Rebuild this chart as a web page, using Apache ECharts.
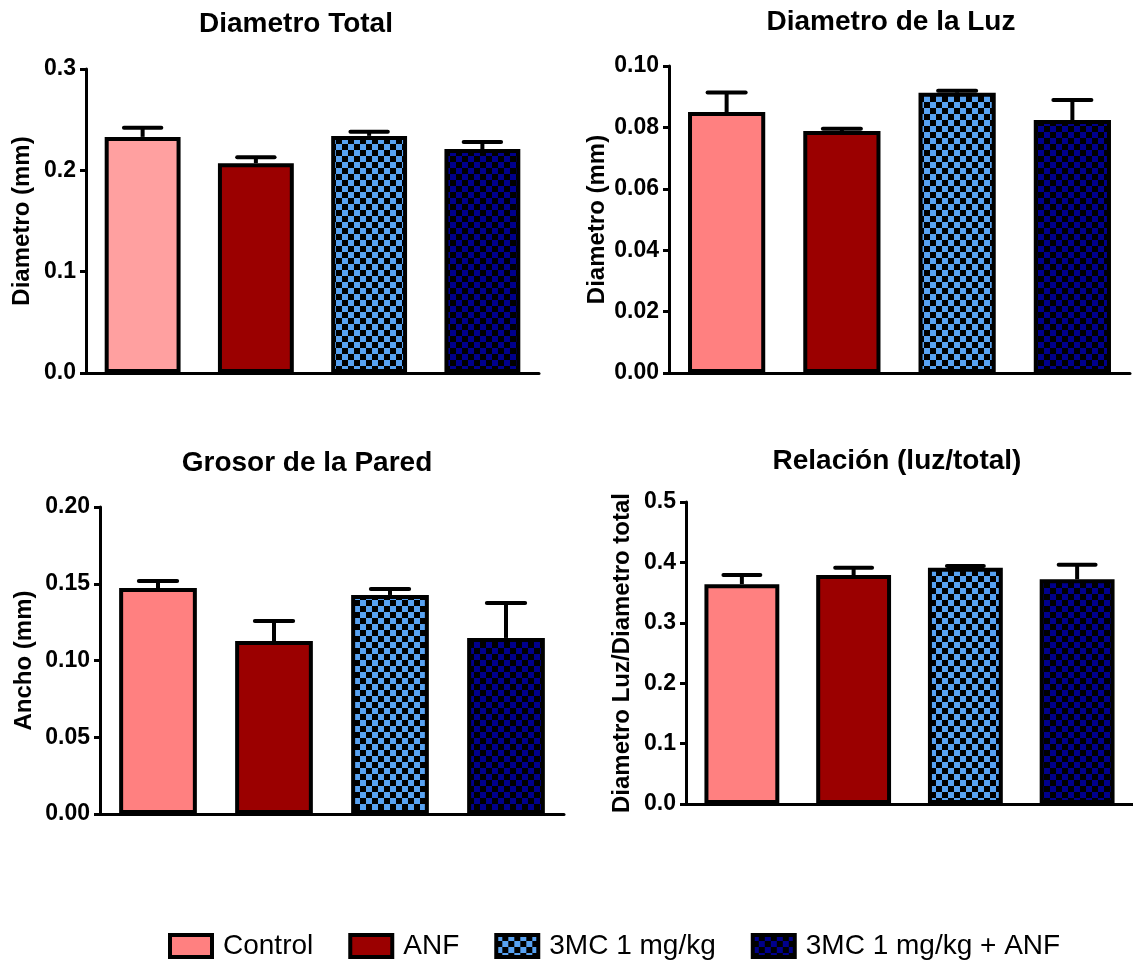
<!DOCTYPE html>
<html><head><meta charset="utf-8">
<script src="https://cdn.jsdelivr.net/npm/echarts@6/dist/echarts.min.js"></script>
<style>html,body{margin:0;padding:0;background:#fff}#c{width:1133px;height:961px}</style>
</head><body><div id="c"></div>
<script>
// ---- data ----
const groups = ['Control', 'ANF', '3MC 1 mg/kg', '3MC 1 mg/kg + ANF'];
const titles = ['Diametro Total', 'Diametro de la Luz', 'Grosor de la Pared', 'Relación (luz/total)'];
const yNames = ['Diametro (mm)', 'Diametro (mm)', 'Ancho (mm)', 'Diametro Luz/Diametro total'];

const totalMean = [0.233, 0.207, 0.234, 0.221];
const totalSem  = [0.009, 0.006, 0.004, 0.007];
const luzMean   = [0.0850, 0.0788, 0.0913, 0.0824];
const luzSem    = [0.0064, 0.0008, 0.0006, 0.0065];
const paredMean = [0.1472, 0.1127, 0.1427, 0.1147];
const paredSem  = [0.0046, 0.0130, 0.0039, 0.0228];
const ratioMean = [0.364, 0.379, 0.391, 0.372];
const ratioSem  = [0.015, 0.012, 0.003, 0.024];

const yMax = [0.3, 0.1, 0.2, 0.5];
const yStep = [0.1, 0.02, 0.05, 0.1];
const yDecimals = [1, 2, 2, 1];

// ---- build ----
const means = [totalMean, luzMean, paredMean, ratioMean];
const sems = [totalSem, luzSem, paredSem, ratioSem];
const FONT = '"Liberation Sans", Arial, sans-serif';

function checker(fg) {
  const c = document.createElement('canvas');
  c.width = 12; c.height = 12;
  const ctx = c.getContext('2d');
  ctx.fillStyle = '#000'; ctx.fillRect(0, 0, 12, 12);
  ctx.fillStyle = fg;
  ctx.fillRect(0, 0, 6, 6);
  ctx.fillRect(6, 6, 6, 6);
  return { image: c, repeat: 'repeat' };
}
const fills = ['#FF8080', '#9B0000', checker('#58A2F2'), checker('#00008C')];
const panelControl = ['#FFA0A0', '#FF8080', '#FF8080', '#FF8080'];

const grids = [
  { left: 86, top: 69, width: 453, height: 304 },
  { left: 669, top: 66, width: 461, height: 307 },
  { left: 100, top: 507, width: 464, height: 307 },
  { left: 686, top: 502, width: 453, height: 302 }
];
const titlePos = [[291, 5], [886, 3], [302, 444], [892, 442]];
const nameGaps = [52, 60, 64, 52];

const xAxes = [], yAxes = [], series = [], titleOpts = [];
for (let p = 0; p < 4; p++) {
  titleOpts.push({
    text: titles[p], left: titlePos[p][0], top: titlePos[p][1], textAlign: 'center',
    textStyle: { fontFamily: FONT, fontSize: 28, fontWeight: 'bold', color: '#000' }
  });
  xAxes.push({
    gridIndex: p, type: 'category', data: groups,
    axisLabel: { show: false },
    axisTick: { alignWithLabel: true, length: 8, lineStyle: { width: 2, color: '#000' } },
    axisLine: { lineStyle: { color: '#000', width: 3 } }
  });
  const dec = yDecimals[p];
  yAxes.push({
    gridIndex: p, type: 'value', min: 0, max: yMax[p], interval: yStep[p],
    axisLine: { show: true, lineStyle: { color: '#000', width: 3 } },
    axisTick: { show: true, length: 6, lineStyle: { width: 3, color: '#000' } },
    axisLabel: { fontFamily: FONT, fontSize: 23, fontWeight: 'bold', color: '#000', margin: 10,
      formatter: v => v.toFixed(dec) },
    splitLine: { show: false },
    name: yNames[p], nameLocation: 'middle', nameGap: nameGaps[p],
    nameTextStyle: { fontFamily: FONT, fontSize: 24, fontWeight: 'bold', color: '#000' }
  });
  for (let g = 0; g < 4; g++) {
    const color = g === 0 ? panelControl[p] : fills[g];
    series.push({
      type: 'bar', name: groups[g], xAxisIndex: p, yAxisIndex: p, stack: 'p' + p,
      barWidth: '67%',
      itemStyle: { color: g === 0 ? '#FF8080' : fills[g], borderColor: '#000', borderWidth: 4 },
      data: groups.map((_, k) => k === g ? { value: means[p][g], itemStyle: { color: color } } : '-')
    });
  }
  series.push({
    type: 'custom', xAxisIndex: p, yAxisIndex: p, z: 5, silent: true,
    encode: { x: 0, y: [1, 2] },
    data: means[p].map((m, i) => [i, m, m + sems[p][i]]),
    renderItem: (params, api) => {
      const i = api.value(0);
      const lo = api.coord([i, api.value(1)]);
      const hi = api.coord([i, api.value(2)]);
      const w = api.size([1, 0])[0] * 0.33;
      return {
        type: 'group', children: [
          { type: 'line', shape: { x1: lo[0], y1: lo[1], x2: hi[0], y2: hi[1] },
            style: { stroke: '#000', lineWidth: 4 } },
          { type: 'line', shape: { x1: hi[0] - w / 2, y1: hi[1], x2: hi[0] + w / 2, y2: hi[1] },
            style: { stroke: '#000', lineWidth: 4, lineCap: 'round' } }
        ]
      };
    }
  });
}

const chart = echarts.init(document.getElementById('c'), null, { renderer: 'canvas' });
chart.setOption({
  animation: false,
  backgroundColor: '#fff',
  title: titleOpts,
  grid: grids,
  xAxis: xAxes,
  yAxis: yAxes,
  legend: {
    data: groups, left: 163, top: 927, itemWidth: 42, itemHeight: 22, itemGap: 35,
    icon: 'rect', selectedMode: false,
    itemStyle: { borderColor: '#000', borderWidth: 4 },
    textStyle: { fontFamily: FONT, fontSize: 28, color: '#000', padding: [0, 0, 0, 6] }
  },
  series: series
});
</script></body></html>
